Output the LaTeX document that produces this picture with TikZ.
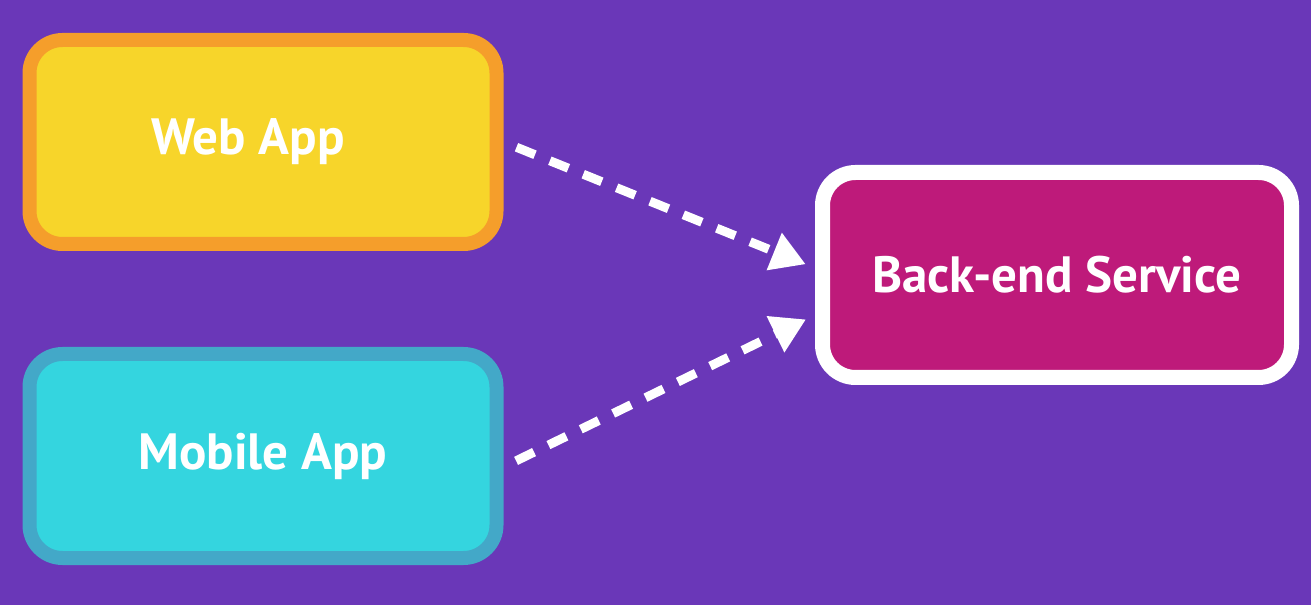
\documentclass[tikz,border=0pt]{standalone}
\usepackage{fontspec}
\setmainfont{PT Sans}
\usetikzlibrary{arrows.meta}

\definecolor{bgpurple}{HTML}{6A37B8}
\definecolor{webfill}{HTML}{F7D52A}
\definecolor{webline}{HTML}{F59E2B}
\definecolor{mobfill}{HTML}{34D5DF}
\definecolor{mobline}{HTML}{43A8C8}
\definecolor{backfill}{HTML}{BE1A7A}

\tikzset{
  appbox/.style={rounded corners=33pt,line width=14pt,minimum width=467pt,
    minimum height=204pt,text=white,font=\bfseries\fontsize{51}{58}\selectfont},
  call/.style={white,line width=9pt,dash pattern=on 20pt off 16pt,
    -{Triangle[length=34pt,width=38pt]}}
}

\begin{document}
\begin{tikzpicture}[x=1pt,y=1pt]
        % draw the background
        \fill[bgpurple] (0,0) rectangle (1311,605);

        % draw the boxes
        \node[appbox,draw=webline,fill=webfill] (web) at (263,463) {Web App\hspace*{30pt}};
        \node[appbox,draw=mobline,fill=mobfill] (mobile) at (263,149) {Mobile App};
        \node[appbox,draw=white,fill=backfill,line width=15pt,minimum width=469pt,
          minimum height=205pt] (back) at (1057,330) {Back-end Service};

        % draw the calls
        \draw[call,shorten <=14pt,shorten >=10pt] (web.east) -- ([yshift=7pt]back.west);
        \draw[call,shorten <=14pt,shorten >=10pt] ([yshift=-11pt]mobile.east) -- ([yshift=-40pt]back.west);
    \end{tikzpicture}
\end{document}
